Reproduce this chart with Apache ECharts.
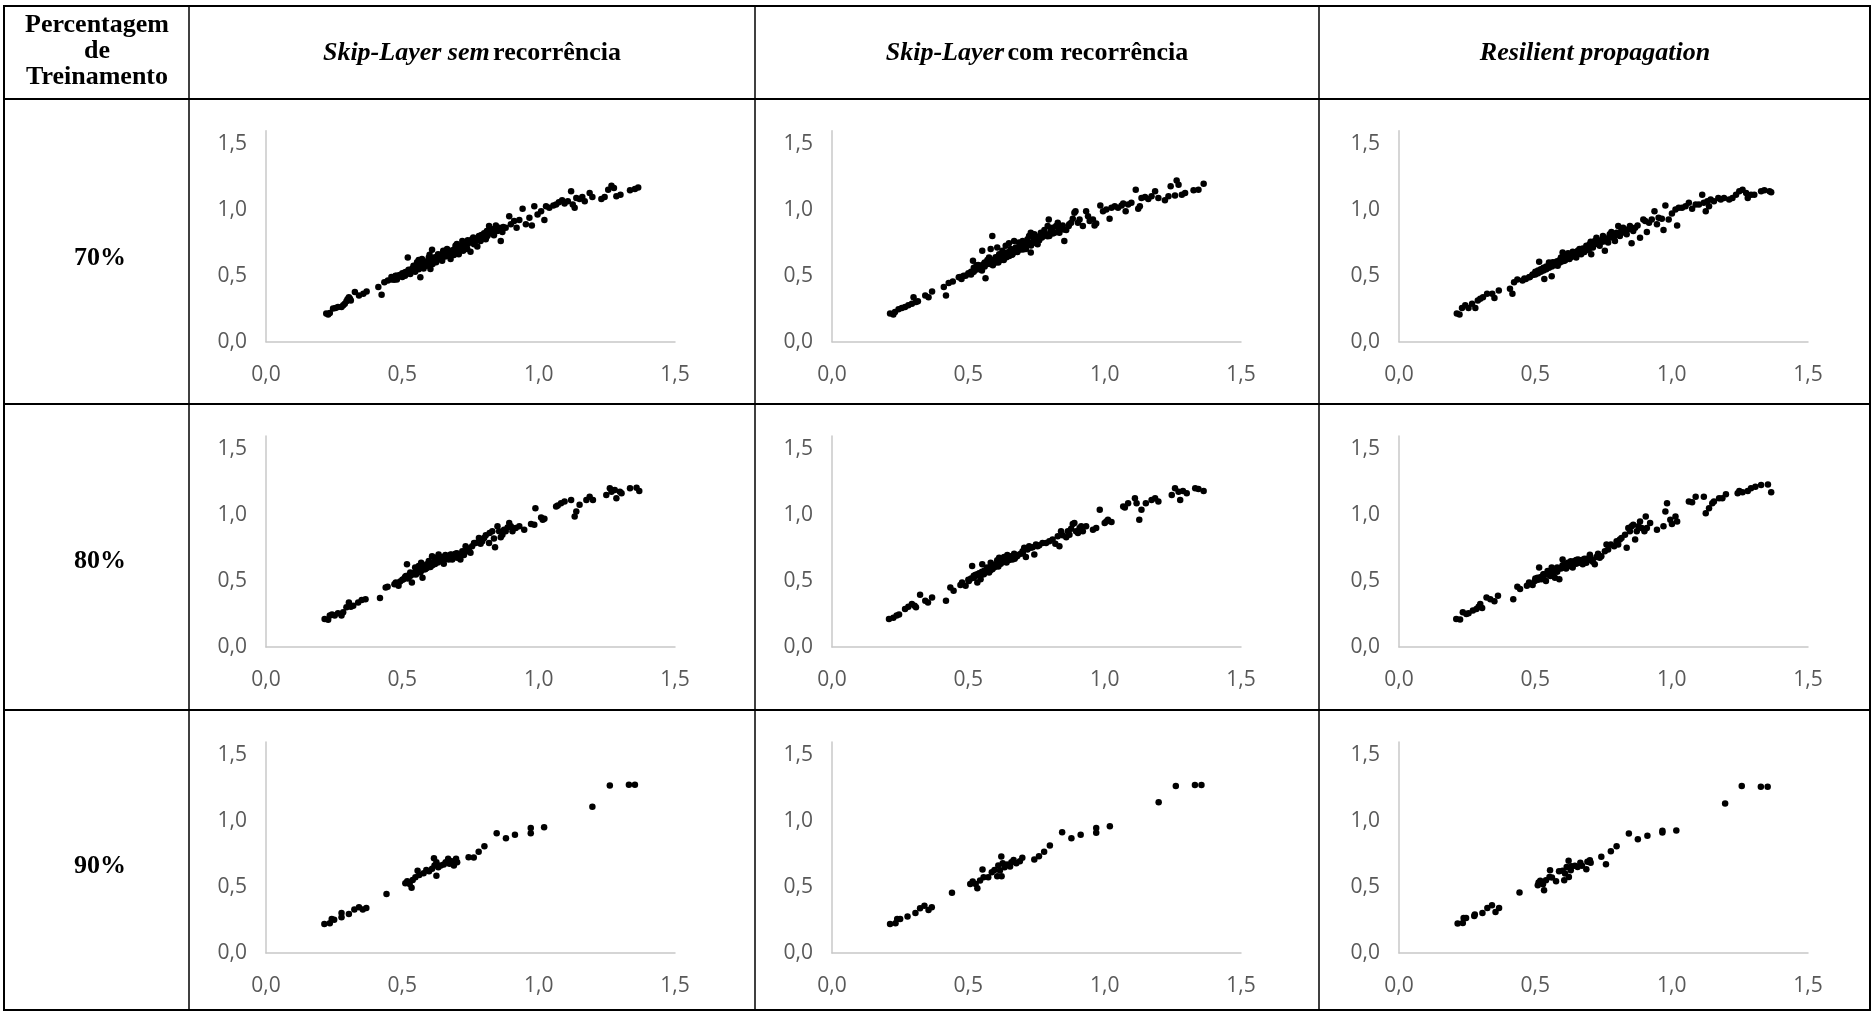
<!DOCTYPE html>
<html><head><meta charset="utf-8">
<script src="https://cdn.jsdelivr.net/npm/echarts@6/dist/echarts.min.js"></script>
<style>html,body{margin:0;padding:0;background:#fff}#c{width:1872px;height:1011px}</style>
</head><body><div id="c"></div>
<script>
// ---------- labels ----------
const rowLabels = ['70%', '80%', '90%'];
const xTickLabels = ['0,0', '0,5', '1,0', '1,5'];
// ---------- data: [observed, predicted] ----------
const r70_sem = [[0.221,0.213],[0.234,0.218],[0.228,0.206],[0.246,0.251],[0.255,0.256],[0.264,0.263],[0.277,0.263],[0.283,0.276],[0.289,0.288],[0.295,0.306],[0.299,0.321],[0.304,0.338],[0.308,0.326],[0.311,0.313],[0.326,0.376],[0.341,0.351],[0.357,0.363],[0.369,0.381],[0.412,0.414],[0.424,0.356],[0.434,0.451],[0.447,0.464],[0.461,0.471],[0.471,0.489],[0.480,0.471],[0.488,0.496],[0.498,0.506],[0.510,0.526],[0.520,0.639],[0.523,0.546],[0.529,0.514],[0.535,0.551],[0.541,0.576],[0.547,0.531],[0.554,0.602],[0.560,0.564],[0.566,0.489],[0.570,0.589],[0.572,0.627],[0.578,0.556],[0.584,0.602],[0.590,0.576],[0.597,0.639],[0.603,0.614],[0.603,0.551],[0.609,0.697],[0.611,0.589],[0.619,0.627],[0.624,0.602],[0.631,0.664],[0.633,0.627],[0.640,0.647],[0.646,0.614],[0.652,0.677],[0.658,0.647],[0.664,0.702],[0.670,0.664],[0.677,0.627],[0.683,0.689],[0.689,0.657],[0.695,0.727],[0.701,0.689],[0.707,0.664],[0.713,0.714],[0.720,0.764],[0.723,0.689],[0.732,0.727],[0.738,0.702],[0.744,0.752],[0.750,0.682],[0.756,0.777],[0.763,0.739],[0.769,0.764],[0.775,0.722],[0.781,0.802],[0.787,0.764],[0.793,0.782],[0.800,0.822],[0.806,0.777],[0.812,0.802],[0.818,0.877],[0.824,0.827],[0.830,0.852],[0.836,0.807],[0.843,0.882],[0.849,0.840],[0.855,0.865],[0.861,0.764],[0.867,0.832],[0.879,0.865],[0.892,0.952],[0.898,0.890],[0.910,0.915],[0.919,0.865],[0.929,0.922],[0.941,1.008],[0.953,0.890],[0.966,0.940],[0.975,0.882],[0.984,1.028],[0.996,0.965],[1.009,0.990],[1.021,0.922],[1.027,1.028],[1.039,1.015],[1.054,1.033],[1.064,1.040],[1.074,1.058],[1.086,1.073],[1.095,1.048],[1.107,1.065],[1.119,1.140],[1.125,1.040],[1.132,1.015],[1.138,1.090],[1.150,1.083],[1.160,1.098],[1.169,1.065],[1.187,1.128],[1.197,1.098],[1.230,1.083],[1.242,1.098],[1.255,1.153],[1.267,1.183],[1.276,1.165],[1.285,1.103],[1.300,1.115],[1.335,1.148],[1.353,1.158],[1.365,1.170],
[0.515,0.530],[0.530,0.540],[0.545,0.555],[0.555,0.570],[0.565,0.575],[0.575,0.600],[0.590,0.610],[0.600,0.600],[0.610,0.630],[0.620,0.640],[0.630,0.645],[0.640,0.660],[0.650,0.650],[0.660,0.670],[0.670,0.690],[0.680,0.670],[0.690,0.700],[0.700,0.710],[0.710,0.700],[0.720,0.730],[0.545,0.540],[0.585,0.590],[0.625,0.615],[0.500,0.520],[0.490,0.505],[0.505,0.515],[0.460,0.490],[0.475,0.500],[0.600,0.660],[0.560,0.620],[0.650,0.690],[0.700,0.740],[0.740,0.770],[0.760,0.790],[0.790,0.810],[0.810,0.840],
[0.47,0.47],[0.48,0.50],[0.50,0.49],[0.51,0.50],[0.52,0.52],[0.53,0.53],[0.54,0.56],[0.55,0.56],[0.56,0.55],[0.57,0.57],[0.58,0.58],[0.59,0.59],[0.60,0.62],[0.61,0.61],[0.62,0.62],[0.63,0.63],[0.64,0.63],[0.65,0.67],[0.66,0.66],[0.67,0.67],[0.68,0.69],[0.69,0.68],[0.70,0.69],[0.71,0.72],[0.73,0.72],[0.74,0.74],[0.75,0.76],[0.77,0.77],[0.78,0.79],[0.80,0.80],[0.82,0.82],[0.83,0.84],[0.85,0.86],[0.87,0.87]];
const r70_com = [[0.213,0.213],[0.225,0.206],[0.231,0.226],[0.244,0.246],[0.256,0.256],[0.268,0.263],[0.280,0.276],[0.293,0.288],[0.299,0.338],[0.308,0.301],[0.315,0.306],[0.342,0.351],[0.354,0.338],[0.367,0.381],[0.410,0.414],[0.418,0.351],[0.428,0.446],[0.443,0.456],[0.465,0.489],[0.475,0.476],[0.483,0.501],[0.502,0.514],[0.514,0.526],[0.517,0.614],[0.526,0.546],[0.536,0.581],[0.545,0.564],[0.551,0.689],[0.557,0.589],[0.563,0.481],[0.569,0.602],[0.576,0.639],[0.582,0.702],[0.588,0.802],[0.588,0.602],[0.600,0.627],[0.606,0.714],[0.613,0.664],[0.619,0.639],[0.625,0.689],[0.631,0.657],[0.637,0.727],[0.643,0.677],[0.649,0.747],[0.656,0.702],[0.662,0.664],[0.668,0.764],[0.674,0.714],[0.680,0.689],[0.686,0.752],[0.692,0.732],[0.699,0.764],[0.705,0.727],[0.711,0.702],[0.717,0.777],[0.723,0.802],[0.729,0.827],[0.729,0.677],[0.736,0.752],[0.742,0.815],[0.748,0.777],[0.754,0.739],[0.760,0.789],[0.766,0.827],[0.772,0.802],[0.779,0.847],[0.785,0.815],[0.791,0.877],[0.795,0.927],[0.797,0.802],[0.803,0.840],[0.809,0.865],[0.816,0.827],[0.822,0.877],[0.828,0.902],[0.834,0.827],[0.840,0.865],[0.846,0.882],[0.852,0.764],[0.859,0.847],[0.868,0.877],[0.877,0.902],[0.883,0.932],[0.889,0.977],[0.893,0.990],[0.902,0.902],[0.908,0.927],[0.920,0.877],[0.932,0.990],[0.939,0.952],[0.945,0.915],[0.957,0.927],[0.963,0.882],[0.969,0.897],[0.984,1.033],[0.994,0.990],[1.006,1.003],[1.018,0.932],[1.025,1.015],[1.037,1.028],[1.049,1.015],[1.062,1.033],[1.068,1.048],[1.077,0.990],[1.086,1.040],[1.098,1.053],[1.114,1.153],[1.123,1.008],[1.129,1.028],[1.135,1.090],[1.148,1.098],[1.160,1.083],[1.172,1.103],[1.185,1.140],[1.197,1.090],[1.221,1.073],[1.234,1.103],[1.242,1.178],[1.258,1.108],[1.264,1.223],[1.271,1.190],[1.283,1.115],[1.295,1.128],[1.326,1.148],[1.344,1.153],[1.363,1.198],
[0.50,0.52],[0.51,0.53],[0.52,0.56],[0.53,0.55],[0.54,0.57],[0.55,0.58],[0.56,0.60],[0.57,0.59],[0.58,0.61],[0.59,0.62],[0.60,0.64],[0.61,0.63],[0.62,0.65],[0.63,0.66],[0.64,0.67],[0.65,0.68],[0.66,0.69],[0.67,0.70],[0.68,0.71],[0.69,0.72],[0.70,0.73],[0.71,0.74],[0.72,0.75],[0.74,0.78],[0.76,0.80],[0.78,0.82],[0.53,0.58],[0.57,0.62],[0.61,0.60],[0.65,0.65],[0.69,0.70],[0.55,0.54],[0.59,0.58],[0.63,0.62],
[0.47,0.49],[0.49,0.50],[0.51,0.51],[0.52,0.53],[0.54,0.55],[0.55,0.56],[0.56,0.57],[0.58,0.59],[0.59,0.60],[0.60,0.60],[0.62,0.62],[0.63,0.64],[0.64,0.64],[0.66,0.66],[0.67,0.68],[0.68,0.68],[0.70,0.70],[0.71,0.71],[0.73,0.73],[0.74,0.75],[0.76,0.77],[0.77,0.79],[0.79,0.80],[0.81,0.82],[0.83,0.84],[0.85,0.85],[0.87,0.89]];
const r70_rprop = [[0.212,0.213],[0.222,0.206],[0.231,0.256],[0.243,0.276],[0.255,0.256],[0.268,0.288],[0.280,0.256],[0.289,0.313],[0.298,0.326],[0.308,0.338],[0.323,0.363],[0.342,0.363],[0.350,0.331],[0.366,0.388],[0.407,0.401],[0.416,0.363],[0.422,0.451],[0.434,0.471],[0.453,0.464],[0.465,0.476],[0.477,0.489],[0.490,0.506],[0.502,0.526],[0.514,0.607],[0.520,0.539],[0.533,0.476],[0.543,0.564],[0.551,0.576],[0.560,0.496],[0.564,0.602],[0.576,0.589],[0.582,0.576],[0.594,0.639],[0.600,0.677],[0.607,0.614],[0.613,0.639],[0.619,0.664],[0.625,0.627],[0.631,0.652],[0.637,0.682],[0.644,0.664],[0.650,0.639],[0.656,0.689],[0.662,0.702],[0.668,0.664],[0.674,0.707],[0.681,0.689],[0.687,0.727],[0.693,0.697],[0.699,0.739],[0.703,0.757],[0.705,0.664],[0.711,0.714],[0.718,0.764],[0.724,0.789],[0.730,0.752],[0.736,0.727],[0.742,0.757],[0.748,0.802],[0.755,0.689],[0.761,0.777],[0.767,0.752],[0.773,0.815],[0.779,0.832],[0.785,0.789],[0.792,0.764],[0.798,0.827],[0.804,0.877],[0.810,0.802],[0.816,0.852],[0.822,0.865],[0.829,0.827],[0.835,0.815],[0.841,0.852],[0.847,0.877],[0.853,0.747],[0.859,0.840],[0.866,0.865],[0.875,0.882],[0.884,0.789],[0.896,0.927],[0.903,0.915],[0.909,0.832],[0.917,0.902],[0.927,0.927],[0.937,0.990],[0.946,0.890],[0.952,0.940],[0.964,0.932],[0.970,0.847],[0.977,1.033],[0.989,0.927],[1.001,0.972],[1.014,1.003],[1.020,0.882],[1.026,1.015],[1.038,1.015],[1.051,1.028],[1.063,1.053],[1.075,1.008],[1.088,1.040],[1.100,1.040],[1.112,1.115],[1.118,1.053],[1.125,0.990],[1.131,1.065],[1.137,1.028],[1.143,1.078],[1.155,1.065],[1.171,1.090],[1.180,1.078],[1.192,1.090],[1.211,1.078],[1.223,1.090],[1.236,1.115],[1.248,1.140],[1.260,1.153],[1.273,1.128],[1.279,1.090],[1.291,1.115],[1.303,1.115],[1.328,1.140],[1.340,1.148],[1.359,1.140],[1.365,1.133],
[0.49,0.51],[0.50,0.53],[0.51,0.54],[0.52,0.55],[0.53,0.56],[0.54,0.57],[0.55,0.58],[0.56,0.59],[0.57,0.60],[0.58,0.61],[0.59,0.62],[0.60,0.63],[0.61,0.64],[0.62,0.65],[0.63,0.66],[0.64,0.67],[0.65,0.68],[0.66,0.69],[0.67,0.69],[0.68,0.70],[0.69,0.72],[0.70,0.73],[0.72,0.74],[0.74,0.77],[0.52,0.53],[0.56,0.57],[0.60,0.61],[0.64,0.65],[0.68,0.68],[0.55,0.60],[0.62,0.67],
[0.46,0.48],[0.48,0.49],[0.50,0.51],[0.51,0.52],[0.53,0.54],[0.54,0.55],[0.55,0.56],[0.57,0.58],[0.58,0.59],[0.59,0.60],[0.61,0.62],[0.62,0.63],[0.63,0.64],[0.65,0.66],[0.66,0.67],[0.67,0.68],[0.69,0.70],[0.70,0.71],[0.71,0.72],[0.73,0.75],[0.75,0.76],[0.77,0.79],[0.79,0.80],[0.81,0.82],[0.83,0.84]];
const r80_sem = [[0.215,0.213],[0.228,0.206],[0.234,0.238],[0.242,0.246],[0.252,0.238],[0.264,0.256],[0.277,0.238],[0.283,0.263],[0.295,0.301],[0.304,0.338],[0.311,0.306],[0.320,0.313],[0.338,0.338],[0.351,0.356],[0.365,0.363],[0.418,0.371],[0.439,0.451],[0.446,0.456],[0.471,0.476],[0.476,0.489],[0.486,0.464],[0.492,0.496],[0.504,0.514],[0.513,0.539],[0.517,0.627],[0.523,0.526],[0.529,0.564],[0.535,0.489],[0.541,0.551],[0.547,0.602],[0.554,0.576],[0.560,0.614],[0.566,0.564],[0.569,0.639],[0.574,0.526],[0.578,0.602],[0.584,0.589],[0.590,0.627],[0.597,0.652],[0.603,0.607],[0.609,0.689],[0.615,0.639],[0.621,0.677],[0.627,0.652],[0.633,0.702],[0.640,0.664],[0.646,0.682],[0.652,0.632],[0.658,0.697],[0.664,0.677],[0.670,0.664],[0.677,0.702],[0.683,0.664],[0.689,0.689],[0.695,0.707],[0.701,0.677],[0.707,0.689],[0.713,0.664],[0.720,0.727],[0.726,0.697],[0.732,0.764],[0.738,0.727],[0.744,0.747],[0.750,0.714],[0.756,0.764],[0.763,0.789],[0.769,0.789],[0.781,0.827],[0.787,0.782],[0.793,0.802],[0.800,0.827],[0.806,0.847],[0.818,0.789],[0.820,0.865],[0.830,0.877],[0.836,0.822],[0.840,0.757],[0.849,0.915],[0.855,0.877],[0.861,0.832],[0.867,0.852],[0.873,0.890],[0.879,0.877],[0.886,0.907],[0.892,0.940],[0.898,0.915],[0.904,0.877],[0.916,0.902],[0.929,0.915],[0.947,0.890],[0.972,0.932],[0.984,0.927],[0.988,1.053],[1.009,0.982],[1.015,0.965],[1.021,0.972],[1.064,1.065],[1.070,1.073],[1.082,1.090],[1.095,1.103],[1.119,1.115],[1.132,0.990],[1.138,1.028],[1.150,1.078],[1.175,1.115],[1.187,1.140],[1.199,1.115],[1.248,1.153],[1.261,1.203],[1.267,1.178],[1.279,1.190],[1.285,1.128],[1.298,1.178],[1.304,1.165],[1.335,1.203],[1.359,1.208],[1.369,1.183],
[0.50,0.51],[0.51,0.53],[0.52,0.54],[0.53,0.55],[0.54,0.56],[0.55,0.57],[0.56,0.58],[0.57,0.60],[0.58,0.61],[0.59,0.62],[0.60,0.63],[0.61,0.64],[0.62,0.65],[0.63,0.66],[0.64,0.67],[0.65,0.68],[0.66,0.69],[0.68,0.70],[0.70,0.71],[0.55,0.55],[0.58,0.59],[0.61,0.62],[0.64,0.65],[0.67,0.68],
[0.52,0.52],[0.53,0.54],[0.55,0.56],[0.56,0.57],[0.57,0.58],[0.59,0.60],[0.60,0.61],[0.61,0.63],[0.62,0.63],[0.63,0.64],[0.65,0.66],[0.66,0.67],[0.67,0.67],[0.69,0.70]];
const r80_com = [[0.209,0.213],[0.225,0.221],[0.237,0.238],[0.246,0.246],[0.268,0.288],[0.280,0.306],[0.293,0.326],[0.303,0.313],[0.308,0.301],[0.323,0.396],[0.342,0.351],[0.352,0.338],[0.367,0.376],[0.418,0.351],[0.434,0.451],[0.446,0.426],[0.471,0.471],[0.477,0.489],[0.490,0.464],[0.502,0.501],[0.514,0.614],[0.520,0.526],[0.526,0.546],[0.533,0.489],[0.539,0.556],[0.545,0.514],[0.551,0.627],[0.557,0.551],[0.563,0.576],[0.569,0.602],[0.576,0.564],[0.582,0.639],[0.588,0.589],[0.594,0.602],[0.600,0.627],[0.606,0.657],[0.613,0.677],[0.619,0.632],[0.625,0.664],[0.631,0.682],[0.637,0.652],[0.643,0.697],[0.649,0.677],[0.656,0.689],[0.662,0.664],[0.668,0.707],[0.674,0.682],[0.680,0.697],[0.692,0.707],[0.699,0.727],[0.705,0.752],[0.711,0.682],[0.717,0.739],[0.723,0.764],[0.729,0.752],[0.736,0.757],[0.742,0.702],[0.748,0.777],[0.754,0.764],[0.760,0.772],[0.772,0.789],[0.785,0.789],[0.797,0.802],[0.809,0.815],[0.819,0.782],[0.828,0.840],[0.834,0.764],[0.840,0.877],[0.846,0.847],[0.859,0.832],[0.865,0.877],[0.871,0.852],[0.877,0.897],[0.883,0.932],[0.889,0.940],[0.895,0.877],[0.902,0.865],[0.908,0.902],[0.914,0.915],[0.920,0.877],[0.932,0.915],[0.957,0.890],[0.969,0.902],[0.982,1.040],[1.000,0.940],[1.006,0.952],[1.012,0.965],[1.025,0.947],[1.068,1.065],[1.074,1.058],[1.086,1.090],[1.111,1.128],[1.117,1.090],[1.127,0.965],[1.135,1.040],[1.151,1.090],[1.172,1.115],[1.185,1.128],[1.197,1.103],[1.246,1.153],[1.258,1.203],[1.271,1.178],[1.277,1.115],[1.287,1.183],[1.301,1.165],[1.332,1.203],[1.344,1.198],[1.363,1.183],
[0.50,0.51],[0.51,0.52],[0.52,0.54],[0.53,0.55],[0.54,0.56],[0.55,0.57],[0.56,0.58],[0.57,0.59],[0.58,0.60],[0.59,0.61],[0.60,0.62],[0.61,0.64],[0.62,0.65],[0.63,0.66],[0.64,0.66],[0.65,0.67],[0.66,0.68],[0.67,0.69],[0.55,0.55],[0.58,0.58],[0.61,0.61],[0.64,0.64],
[0.52,0.53],[0.54,0.54],[0.55,0.56],[0.57,0.58],[0.58,0.59],[0.60,0.61],[0.61,0.62],[0.62,0.64],[0.64,0.65],[0.65,0.66],[0.67,0.67],[0.68,0.69],[0.70,0.71]];
const r80_rprop = [[0.210,0.213],[0.224,0.208],[0.234,0.263],[0.247,0.251],[0.255,0.256],[0.271,0.276],[0.284,0.288],[0.292,0.306],[0.298,0.326],[0.305,0.296],[0.321,0.376],[0.335,0.363],[0.350,0.346],[0.363,0.388],[0.419,0.363],[0.434,0.456],[0.444,0.439],[0.469,0.464],[0.477,0.489],[0.490,0.471],[0.498,0.501],[0.508,0.526],[0.514,0.602],[0.523,0.514],[0.530,0.551],[0.539,0.501],[0.545,0.576],[0.555,0.539],[0.560,0.602],[0.567,0.564],[0.572,0.526],[0.580,0.602],[0.588,0.514],[0.594,0.596],[0.600,0.664],[0.607,0.627],[0.613,0.596],[0.619,0.639],[0.625,0.614],[0.631,0.639],[0.637,0.602],[0.644,0.652],[0.650,0.632],[0.656,0.664],[0.662,0.639],[0.668,0.652],[0.674,0.627],[0.681,0.664],[0.687,0.639],[0.693,0.657],[0.699,0.677],[0.705,0.664],[0.711,0.647],[0.718,0.627],[0.724,0.682],[0.730,0.707],[0.736,0.677],[0.742,0.689],[0.755,0.727],[0.761,0.777],[0.767,0.739],[0.777,0.777],[0.789,0.764],[0.798,0.802],[0.804,0.777],[0.810,0.815],[0.816,0.827],[0.829,0.852],[0.835,0.752],[0.841,0.902],[0.847,0.877],[0.853,0.915],[0.859,0.927],[0.866,0.815],[0.872,0.877],[0.878,0.915],[0.884,0.952],[0.890,0.902],[0.900,0.877],[0.905,0.990],[0.909,0.902],[0.921,0.940],[0.946,0.890],[0.970,0.915],[0.977,1.028],[0.983,1.090],[0.995,0.965],[1.001,0.932],[1.014,0.990],[1.020,0.952],[1.063,1.103],[1.075,1.098],[1.088,1.140],[1.118,1.140],[1.125,1.015],[1.137,1.053],[1.149,1.090],[1.155,1.103],[1.174,1.128],[1.186,1.128],[1.199,1.158],[1.242,1.165],[1.248,1.183],[1.260,1.173],[1.279,1.183],[1.291,1.203],[1.307,1.216],[1.328,1.228],[1.353,1.233],[1.365,1.173],
[0.50,0.52],[0.52,0.53],[0.53,0.54],[0.54,0.55],[0.56,0.57],[0.57,0.58],[0.58,0.59],[0.59,0.60],[0.60,0.61],[0.61,0.62],[0.62,0.63],[0.63,0.63],[0.64,0.64],[0.65,0.65],[0.66,0.65],[0.67,0.66],[0.68,0.66],[0.69,0.67],[0.70,0.68],[0.55,0.56],[0.58,0.57],[0.61,0.60],
[0.51,0.51],[0.53,0.55],[0.55,0.55],[0.56,0.58],[0.58,0.58],[0.60,0.62],[0.62,0.62],[0.63,0.65],[0.65,0.66],[0.66,0.66],[0.68,0.67],[0.70,0.70]];
const r90_sem = [[0.214,0.220],[0.234,0.225],[0.241,0.258],[0.250,0.253],[0.277,0.271],[0.277,0.304],[0.304,0.296],[0.324,0.329],[0.341,0.347],[0.355,0.329],[0.368,0.342],[0.442,0.448],[0.511,0.529],[0.518,0.544],[0.527,0.524],[0.534,0.494],[0.538,0.554],[0.548,0.575],[0.556,0.623],[0.562,0.592],[0.578,0.605],[0.588,0.630],[0.598,0.620],[0.609,0.638],[0.616,0.719],[0.618,0.663],[0.625,0.689],[0.625,0.585],[0.632,0.651],[0.641,0.663],[0.652,0.671],[0.659,0.689],[0.668,0.714],[0.673,0.676],[0.681,0.696],[0.689,0.663],[0.697,0.714],[0.701,0.689],[0.743,0.727],[0.762,0.724],[0.780,0.767],[0.801,0.810],[0.846,0.909],[0.880,0.871],[0.913,0.896],[0.971,0.947],[0.971,0.909],[1.020,0.954],[1.197,1.109],[1.261,1.271],[1.331,1.276],[1.353,1.276]];
const r90_com = [[0.213,0.220],[0.233,0.225],[0.239,0.258],[0.250,0.258],[0.277,0.276],[0.306,0.304],[0.323,0.339],[0.339,0.359],[0.354,0.327],[0.366,0.347],[0.440,0.456],[0.507,0.524],[0.516,0.542],[0.527,0.524],[0.533,0.491],[0.543,0.549],[0.552,0.633],[0.556,0.575],[0.573,0.575],[0.586,0.613],[0.596,0.630],[0.606,0.582],[0.610,0.663],[0.616,0.625],[0.621,0.732],[0.622,0.582],[0.626,0.681],[0.633,0.651],[0.642,0.671],[0.653,0.656],[0.658,0.689],[0.666,0.706],[0.676,0.681],[0.689,0.696],[0.698,0.722],[0.742,0.709],[0.759,0.734],[0.778,0.767],[0.799,0.815],[0.844,0.916],[0.878,0.871],[0.912,0.896],[0.969,0.947],[0.969,0.911],[1.019,0.962],[1.198,1.144],[1.261,1.266],[1.331,1.273],[1.355,1.273]];
const r90_rprop = [[0.215,0.223],[0.234,0.228],[0.237,0.266],[0.246,0.266],[0.276,0.281],[0.278,0.291],[0.306,0.304],[0.324,0.342],[0.341,0.362],[0.354,0.311],[0.367,0.342],[0.442,0.458],[0.509,0.514],[0.512,0.534],[0.518,0.547],[0.528,0.522],[0.532,0.476],[0.539,0.552],[0.552,0.577],[0.554,0.628],[0.561,0.572],[0.576,0.544],[0.587,0.620],[0.600,0.623],[0.606,0.552],[0.609,0.603],[0.615,0.653],[0.622,0.699],[0.623,0.577],[0.630,0.628],[0.632,0.658],[0.645,0.661],[0.655,0.653],[0.665,0.684],[0.671,0.661],[0.687,0.635],[0.691,0.691],[0.700,0.704],[0.703,0.684],[0.742,0.729],[0.759,0.673],[0.777,0.772],[0.798,0.810],[0.843,0.906],[0.876,0.863],[0.911,0.889],[0.966,0.914],[0.966,0.927],[1.017,0.929],[1.196,1.134],[1.257,1.266],[1.327,1.261],[1.352,1.261]];

const panels = [r70_sem, r70_com, r70_rprop, r80_sem, r80_com, r80_rprop, r90_sem, r90_com, r90_rprop];

// ---------- layout ----------
const colLeft = [266, 832, 1399];
const plotW = 409;
const rowAxisY = [341.7, 647, 953];
const plotH = 211; // 0 .. 1.6
const FONT_AX = 'Open Sans';
const fmt = v => (Math.abs(v * 2 - Math.round(v * 2)) < 1e-6) ? v.toFixed(1).replace('.', ',') : '';

const grids = [], xAxes = [], yAxes = [], series = [];
panels.forEach((d, i) => {
  const r = Math.floor(i / 3), c = i % 3;
  grids.push({ left: colLeft[c], top: rowAxisY[r] - plotH, width: plotW, height: plotH, containLabel: false });
  const axLine = { show: true, lineStyle: { color: '#c8c8c8', width: 1.5 } };
  const lab = { color: '#595959', fontFamily: FONT_AX, fontSize: 21, formatter: fmt };
  xAxes.push({ gridIndex: i, type: 'value', min: 0, max: 1.5, interval: 0.5, axisLine: axLine, axisTick: { show: false }, splitLine: { show: false }, axisLabel: Object.assign({ margin: 23 }, lab) });
  yAxes.push({ gridIndex: i, type: 'value', min: 0, max: 1.6, interval: 0.5, axisLine: axLine, axisTick: { show: false }, splitLine: { show: false }, axisLabel: Object.assign({ margin: 19 }, lab) });
  series.push({ type: 'scatter', xAxisIndex: i, yAxisIndex: i, data: d, symbolSize: 6.5, itemStyle: { color: '#000', opacity: 1 }, silent: true });
});

// ---------- table (borders and texts) ----------
const L = 4, R = 1870, T = 6, B = 1010;
const hLines = [99, 404, 710];
const vLines = [189, 755, 1319];
const graphic = [];
graphic.push({ type: 'rect', shape: { x: L, y: T, width: R - L, height: B - T }, style: { fill: 'none', stroke: '#000', lineWidth: 2 } });
hLines.forEach(y => graphic.push({ type: 'line', shape: { x1: L, y1: y, x2: R, y2: y }, style: { stroke: '#000', lineWidth: 2 } }));
vLines.forEach(x => graphic.push({ type: 'line', shape: { x1: x, y1: T, x2: x, y2: B }, style: { stroke: '#000', lineWidth: 1.5 } }));
const SERIF = '"Liberation Serif", "Times New Roman", serif';
const richSt = {
  i: { fontFamily: SERIF, fontSize: 26, fontWeight: 'bold', fontStyle: 'italic', fill: '#000', color: '#000' },
  b: { fontFamily: SERIF, fontSize: 26, fontWeight: 'bold', fill: '#000', color: '#000' }
};
const headers = ['{i|Skip-Layer sem} {b|recorrência}', '{i|Skip-Layer} {b|com recorrência}', '{i|Resilient propagation}'];
const headerX = [472, 1037, 1595];
headers.forEach((t, k) => graphic.push({ type: 'text', x: headerX[k], y: 53, style: { text: t, rich: richSt, align: 'center', verticalAlign: 'middle', fill: '#000' } }));
graphic.push({ type: 'text', x: 97, y: 51, style: { text: 'Percentagem\nde\nTreinamento', font: 'bold 26px ' + SERIF, lineHeight: 26, align: 'center', verticalAlign: 'middle', fill: '#000' } });
const rowLabelY = [258, 561, 866];
rowLabels.forEach((t, k) => graphic.push({ type: 'text', x: 100, y: rowLabelY[k], style: { text: t, font: 'bold 26px ' + SERIF, align: 'center', verticalAlign: 'middle', fill: '#000' } }));

const chart = echarts.init(document.getElementById('c'), null, { renderer: 'canvas' });
chart.setOption({ animation: false, backgroundColor: '#fff', grid: grids, xAxis: xAxes, yAxis: yAxes, series: series, graphic: graphic });
</script></body></html>
